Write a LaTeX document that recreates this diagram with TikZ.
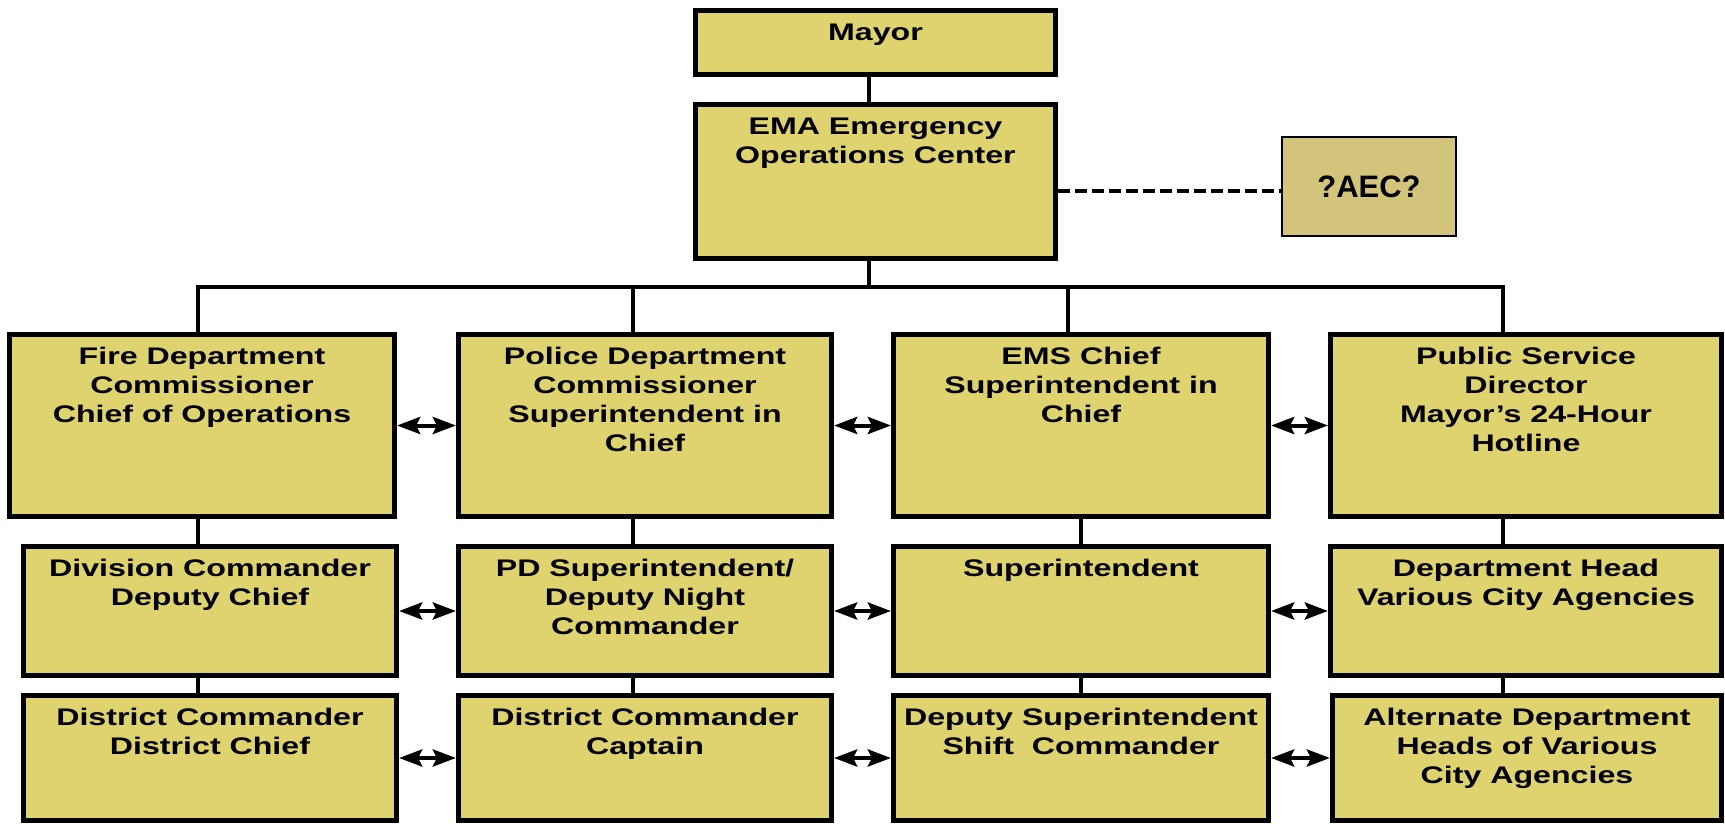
\documentclass[tikz,border=0pt]{standalone}
\usepackage{fontspec}
\setmainfont{Liberation Sans}[FakeStretch=1.34]
\newfontfamily\aecfont{Liberation Sans}
\usetikzlibrary{arrows.meta}

\definecolor{boxyellow}{HTML}{DFD36F}
\definecolor{aecyellow}{HTML}{D3C47B}

\newdimen\pxu \pxu=0.5pt
% top aligned text inside a box of w x h pixels
\newcommand{\boxtext}[3]{\begin{minipage}[c][#2\pxu][t]{#1\pxu}\centering\vspace*{4.7pt}\strut #3\end{minipage}}

\tikzset{
	orgbox/.style={draw, line width=2.6pt, fill=boxyellow, inner sep=0pt,
		font=\fontsize{12}{14.5}\selectfont\bfseries},
	aecbox/.style={draw, line width=1.4pt, fill=aecyellow, inner sep=0pt,
		minimum width=87pt, minimum height=49.5pt,
		font=\aecfont\fontsize{15.5}{18}\selectfont\bfseries},
	orgline/.style={line width=2pt},
	dashline/.style={line width=2pt, dash pattern=on 6pt off 2.5pt},
	twoway/.style={line width=2pt,
		{Stealth[length=11.5pt,width=8.5pt,inset=2pt]}-{Stealth[length=11.5pt,width=8.5pt,inset=2pt]}}
}

\begin{document}
\begin{tikzpicture}[x=0.5pt,y=-0.5pt]
		\useasboundingbox (0,0) rectangle (1725,824);

		\node[orgbox] (mayor) at (875.5,42.5) {\boxtext{360}{64}{Mayor}};
		\node[orgbox] (eoc) at (875.5,181.5) {\boxtext{360}{154}{EMA Emergency\\Operations Center}};
		\node[aecbox] (aec) at (1369,186.5) {?AEC?};

		\node[orgbox] (fire1) at (202,425.5) {\boxtext{385}{182}{Fire Department\\Commissioner\\Chief of Operations}};
		\node[orgbox] (pol1) at (645,425.5) {\boxtext{373}{182}{Police Department\\Commissioner\\Superintendent in\\Chief}};
		\node[orgbox] (ems1) at (1081,425.5) {\boxtext{375}{182}{EMS Chief\\Superintendent in\\Chief}};
		\node[orgbox] (pub1) at (1526,425.5) {\boxtext{391}{182}{Public Service\\Director\\Mayor’s 24-Hour\\Hotline}};

		\node[orgbox] (fire2) at (210,611) {\boxtext{373}{129}{Division Commander\\Deputy Chief}};
		\node[orgbox] (pol2) at (645,611) {\boxtext{373}{129}{PD Superintendent/\\Deputy Night\\Commander}};
		\node[orgbox] (ems2) at (1081,611) {\boxtext{375}{129}{Superintendent}};
		\node[orgbox] (pub2) at (1526,611) {\boxtext{391}{129}{Department Head\\Various City Agencies}};

		\node[orgbox] (fire3) at (210,758) {\boxtext{373}{125}{District Commander\\District Chief}};
		\node[orgbox] (pol3) at (645,758) {\boxtext{373}{125}{District Commander\\Captain}};
		\node[orgbox] (ems3) at (1081,758) {\boxtext{375}{125}{Deputy Superintendent\\Shift~~Commander}};
		\node[orgbox] (pub3) at (1527,758) {\boxtext{389}{125}{Alternate Department\\Heads of Various\\City Agencies}};

		\coordinate (bus) at (869,287);
		\coordinate (dashy) at (0,191);
		\coordinate (firex) at (198,0);
		\coordinate (polx) at (633,0);
		\coordinate (emsx) at (1068,0);
		\coordinate (pubx) at (1503,0);

		\draw[orgline] (mayor.south -| bus) -- (eoc.north -| bus);
		\draw[orgline] (eoc.south -| bus) -- (bus);
		\draw[orgline] (fire1.north -| firex) -- (firex |- bus) -- (pubx |- bus) -- (pub1.north -| pubx);
		\draw[orgline] (pol1.north -| polx) -- (polx |- bus);
		\draw[orgline] (ems1.north -| emsx) -- (emsx |- bus);
		\draw[dashline] (eoc.east |- dashy) -- (aec.west |- dashy);

		\draw[orgline] (fire1.south -| firex) -- (fire2.north -| firex);
		\draw[orgline] (fire2.south -| firex) -- (fire3.north -| firex);
		\draw[orgline] (pol1.south -| polx) -- (pol2.north -| polx);
		\draw[orgline] (pol2.south -| polx) -- (pol3.north -| polx);
		\draw[orgline] (ems1.south) -- (ems2.north);
		\draw[orgline] (ems2.south) -- (ems3.north);
		\draw[orgline] (pub1.south -| pubx) -- (pub2.north -| pubx);
		\draw[orgline] (pub2.south -| pubx) -- (pub3.north -| pubx);

		\draw[twoway] (fire1.east) -- (pol1.west);
		\draw[twoway] (pol1.east) -- (ems1.west);
		\draw[twoway] (ems1.east) -- (pub1.west);
		\draw[twoway] (fire2.east) -- (pol2.west);
		\draw[twoway] (pol2.east) -- (ems2.west);
		\draw[twoway] (ems2.east) -- (pub2.west);
		\draw[twoway] (fire3.east) -- (pol3.west);
		\draw[twoway] (pol3.east) -- (ems3.west);
		\draw[twoway] (ems3.east) -- (pub3.west);
	\end{tikzpicture}
\end{document}
